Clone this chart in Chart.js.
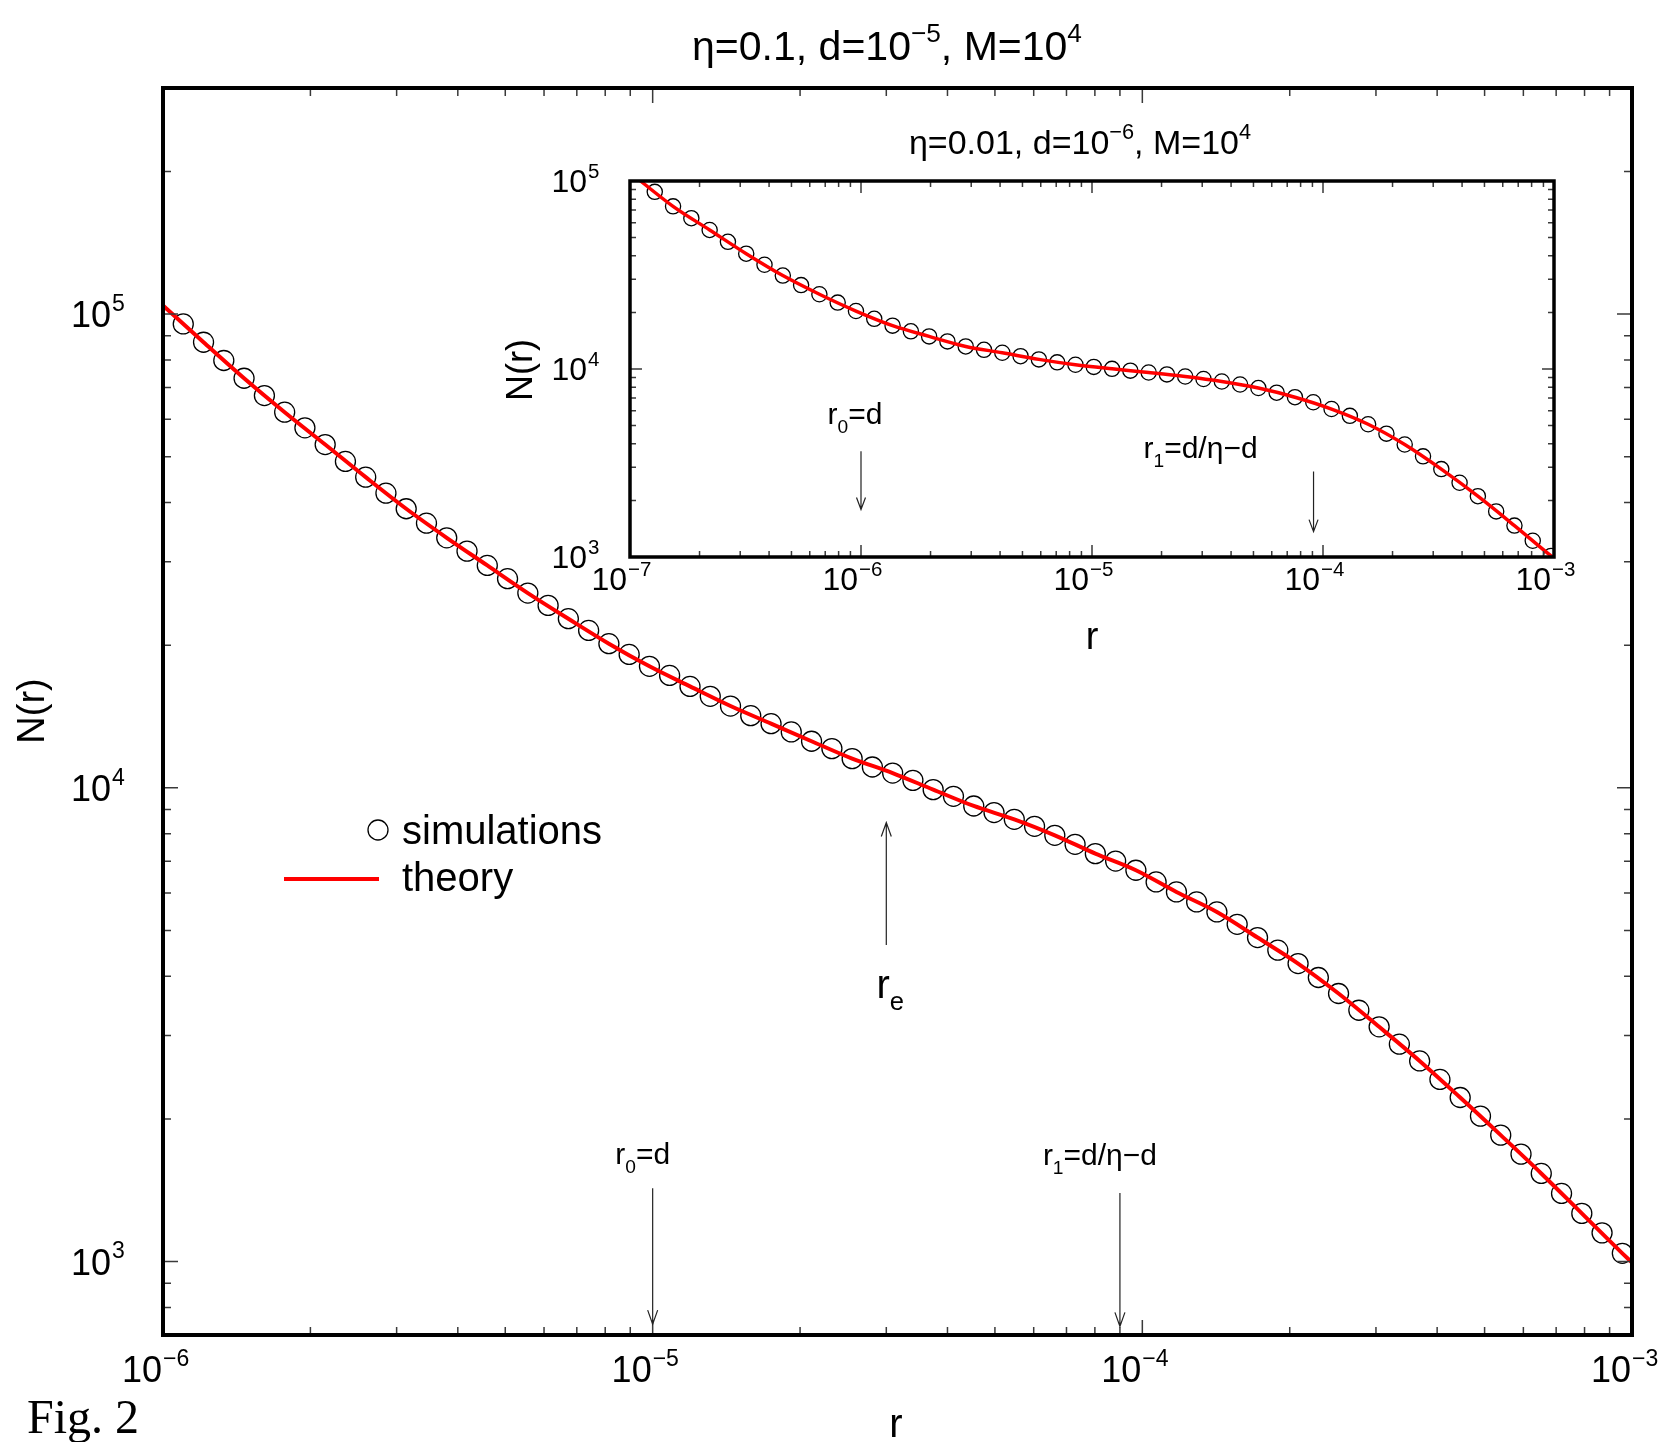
<!DOCTYPE html>
<html>
<head>
<meta charset="utf-8">
<script src="https://cdn.jsdelivr.net/npm/chart.js@4.4.1/dist/chart.umd.min.js"></script>
<style>
  html, body { margin: 0; padding: 0; background: #fff; }
  #wrap { position: relative; width: 1663px; height: 1442px; overflow: hidden; }
  #main { position: absolute; left: 0; top: 0; }
  #inset { position: absolute; left: 480px; top: 100px; }
</style>
</head>
<body>
<div id="wrap">
  <canvas id="main" width="1663" height="1442"></canvas>
  <canvas id="inset" width="1120" height="560"></canvas>
</div>
<script>
// ---- main panel: eta=0.1, d=1e-5, M=1e4 ----
const mainSimR = [
  1.100e-6, 1.210e-6, 1.331e-6, 1.464e-6, 1.611e-6, 1.772e-6, 1.949e-6, 2.144e-6, 2.358e-6, 2.594e-6,
  2.853e-6, 3.138e-6, 3.452e-6, 3.797e-6, 4.177e-6, 4.595e-6, 5.054e-6, 5.560e-6, 6.116e-6, 6.727e-6,
  7.400e-6, 8.140e-6, 8.954e-6, 9.850e-6, 1.083e-5, 1.192e-5, 1.311e-5, 1.442e-5, 1.586e-5, 1.745e-5,
  1.919e-5, 2.111e-5, 2.323e-5, 2.555e-5, 2.810e-5, 3.091e-5, 3.400e-5, 3.740e-5, 4.114e-5, 4.526e-5,
  4.979e-5, 5.476e-5, 6.024e-5, 6.626e-5, 7.289e-5, 8.018e-5, 8.820e-5, 9.702e-5, 1.067e-4, 1.174e-4,
  1.291e-4, 1.420e-4, 1.562e-4, 1.719e-4, 1.891e-4, 2.080e-4, 2.288e-4, 2.516e-4, 2.768e-4, 3.045e-4,
  3.349e-4, 3.684e-4, 4.053e-4, 4.458e-4, 4.904e-4, 5.394e-4, 5.934e-4, 6.527e-4, 7.180e-4, 7.898e-4,
  8.687e-4, 9.556e-4
];
const mainSimN = [
  95300, 87200, 79800, 73200, 67300, 62060, 57530, 53040, 48850, 45260,
  41870, 38820, 36190, 33710, 31590, 29470, 27630, 25770, 24270, 22750,
  21490, 20150, 19120, 18050, 17270, 16370, 15600, 14880, 14200, 13660,
  13120, 12540, 12100, 11525, 11065, 10745, 10370, 9913, 9596, 9155,
  8867, 8582, 8295, 7940, 7600, 7263, 7006, 6699, 6329, 6029,
  5743, 5470, 5152, 4831, 4542, 4257, 3978, 3680, 3393, 3130,
  2877, 2652, 2424, 2220, 2028, 1849, 1686, 1535, 1393, 1264,
  1150, 1041
];
const mainTheoryR = [
  1.000e-6, 1.210e-6, 1.464e-6, 1.772e-6, 2.144e-6, 2.594e-6, 3.138e-6, 3.797e-6, 4.595e-6, 5.560e-6,
  6.727e-6, 8.140e-6, 9.850e-6, 1.192e-5, 1.442e-5, 1.745e-5, 2.111e-5, 2.555e-5, 3.091e-5, 3.740e-5,
  4.526e-5, 5.476e-5, 6.626e-5, 8.018e-5, 9.702e-5, 1.174e-4, 1.420e-4, 1.719e-4, 2.080e-4, 2.516e-4,
  3.045e-4, 3.684e-4, 4.458e-4, 5.394e-4, 6.527e-4, 7.898e-4, 9.556e-4, 1.000e-3
];
const mainTheoryN = [
  104200, 87200, 73200, 62060, 53040, 45260, 38820, 33710, 29470, 25770,
  22750, 20150, 18050, 16370, 14880, 13660, 12540, 11525, 10745, 9913,
  9155, 8582, 7940, 7263, 6699, 6029, 5470, 4831, 4257, 3680,
  3130, 2652, 2220, 1849, 1535, 1264, 1041, 995
];
const mainXTicks = [1e-6, 1e-5, 1e-4, 1e-3];
const mainXTickExp = ['−6', '−5', '−4', '−3'];
const mainYTicks = [1e3, 1e4, 1e5];
const mainYTickExp = ['3', '4', '5'];

// ---- inset: eta=0.01, d=1e-6, M=1e4 ----
const insetSimR = [
  1.280e-7, 1.536e-7, 1.843e-7, 2.212e-7, 2.654e-7, 3.185e-7, 3.822e-7, 4.587e-7, 5.504e-7, 6.605e-7,
  7.926e-7, 9.511e-7, 1.141e-6, 1.370e-6, 1.644e-6, 1.972e-6, 2.367e-6, 2.840e-6, 3.408e-6, 4.090e-6,
  4.908e-6, 5.889e-6, 7.067e-6, 8.480e-6, 1.018e-5, 1.221e-5, 1.466e-5, 1.759e-5, 2.110e-5, 2.532e-5,
  3.039e-5, 3.647e-5, 4.376e-5, 5.251e-5, 6.301e-5, 7.562e-5, 9.074e-5, 1.089e-4, 1.307e-4, 1.568e-4,
  1.882e-4, 2.258e-4, 2.710e-4, 3.252e-4, 3.902e-4, 4.682e-4, 5.619e-4, 6.742e-4, 8.091e-4, 9.709e-4
];
const insetSimN = [
  87560, 73320, 63420, 54900, 47490, 41060, 35840, 31410, 27950, 24990,
  22550, 20340, 18490, 17010, 15870, 14910, 14020, 13180, 12650, 12200,
  11700, 11250, 10850, 10530, 10260, 10020, 9800, 9580, 9360, 9120,
  8850, 8580, 8270, 7920, 7480, 7080, 6655, 6125, 5635, 5085,
  4530, 3967, 3430, 2934, 2484, 2106, 1748, 1469, 1220, 1013
];
const insetTheoryR = [
  1.000e-7, 1.536e-7, 2.212e-7, 3.185e-7, 4.587e-7, 6.605e-7, 9.511e-7, 1.370e-6, 1.972e-6, 2.840e-6,
  4.090e-6, 5.889e-6, 8.480e-6, 1.221e-5, 1.759e-5, 2.532e-5, 3.647e-5, 5.251e-5, 7.562e-5, 1.089e-4,
  1.568e-4, 2.258e-4, 3.252e-4, 4.682e-4, 6.742e-4, 9.709e-4, 1.000e-3
];
const insetTheoryN = [
  111000, 73320, 54900, 41060, 31410, 24990, 20340, 17010, 14910, 13180,
  12200, 11250, 10530, 10020, 9580, 9120, 8580, 7920, 7080, 6125,
  5085, 3967, 2934, 2106, 1469, 1013, 985
];
const insetXTicks = [1e-7, 1e-6, 1e-5, 1e-4, 1e-3];
const insetXTickExp = ['−7', '−6', '−5', '−4', '−3'];
const insetYTicks = [1e3, 1e4, 1e5];
const insetYTickExp = ['3', '4', '5'];

const SANS = '"Liberation Sans", Arial, Helvetica, sans-serif';

// minor log ticks (2..9 in each decade) strictly inside [lo, hi]
function minorTicks(lo, hi) {
  const out = [];
  for (let e = Math.floor(Math.log10(lo)); e <= Math.ceil(Math.log10(hi)); e++) {
    for (let m = 2; m <= 9; m++) {
      const v = m * Math.pow(10, e);
      if (v > lo * 1.0001 && v < hi / 1.0001) out.push(v);
    }
  }
  return out;
}

// text made of runs: [text] or [text, 'sup'|'sub']
function runWidth(ctx, parts, size) {
  let w = 0;
  parts.forEach(([t, k]) => {
    ctx.font = (k ? size * 0.64 : size) + 'px ' + SANS;
    w += ctx.measureText(t).width;
  });
  return w;
}
function drawRuns(ctx, parts, x, y, size, align) {
  const total = runWidth(ctx, parts, size);
  let cx = align === 'center' ? x - total / 2 : align === 'right' ? x - total : x;
  ctx.textAlign = 'left';
  ctx.textBaseline = 'alphabetic';
  ctx.fillStyle = '#000';
  parts.forEach(([t, k]) => {
    ctx.font = (k ? size * 0.64 : size) + 'px ' + SANS;
    const dy = k === 'sup' ? -0.45 * size : k === 'sub' ? 0.3 * size : 0;
    ctx.fillText(t, cx, y + dy);
    cx += ctx.measureText(t).width;
  });
}

function arrow(ctx, x, yTail, yTip, head, half) {
  const dir = Math.sign(yTip - yTail);
  ctx.beginPath();
  ctx.moveTo(x, yTail);
  ctx.lineTo(x, yTip);
  ctx.moveTo(x - half, yTip - dir * head);
  ctx.lineTo(x, yTip);
  ctx.lineTo(x + half, yTip - dir * head);
  ctx.stroke();
}

function makeDeco(cfg) {
  return {
    id: 'deco',
    afterDraw(chart) {
      const { ctx, chartArea: a, scales: { x, y } } = chart;
      ctx.save();
      // tick marks on all four sides, pointing inward
      ctx.strokeStyle = '#3a3a3a';
      ctx.lineWidth = 1.5;
      const xt = (v, len) => {
        const px = x.getPixelForValue(v);
        ctx.beginPath();
        ctx.moveTo(px, a.bottom); ctx.lineTo(px, a.bottom - len);
        ctx.moveTo(px, a.top); ctx.lineTo(px, a.top + len);
        ctx.stroke();
      };
      const yt = (v, len) => {
        const py = y.getPixelForValue(v);
        ctx.beginPath();
        ctx.moveTo(a.left, py); ctx.lineTo(a.left + len, py);
        ctx.moveTo(a.right, py); ctx.lineTo(a.right - len, py);
        ctx.stroke();
      };
      minorTicks(x.min, x.max).forEach(v => xt(v, cfg.minorLen));
      minorTicks(y.min, y.max).forEach(v => yt(v, cfg.minorLen));
      cfg.xTicks.forEach(v => xt(v, cfg.majorLen));
      cfg.yTicks.forEach(v => yt(v, cfg.majorLen));

      // frame
      ctx.strokeStyle = '#000';
      ctx.lineWidth = cfg.frameWidth;
      ctx.strokeRect(a.left, a.top, a.right - a.left, a.bottom - a.top);

      // tick labels 10^n
      const ts = cfg.tickSize;
      cfg.xTicks.forEach((v, i) => {
        const px = x.getPixelForValue(v) + cfg.xLabelDx;
        drawRuns(ctx, [['10']], px, a.bottom + cfg.xLabelDy, ts, 'right');
        drawRuns(ctx, [[cfg.xExp[i], 'sup']], px + 1, a.bottom + cfg.xLabelDy, ts, 'left');
      });
      cfg.yTicks.forEach((v, i) => {
        const py = y.getPixelForValue(v);
        const px = a.left + cfg.yLabelDx;
        drawRuns(ctx, [['10']], px, py + cfg.yLabelDy, ts, 'right');
        drawRuns(ctx, [[cfg.yExp[i], 'sup']], px + 1, py + cfg.yLabelDy, ts, 'left');
      });

      // titles
      drawRuns(ctx, cfg.title.parts, cfg.title.x, cfg.title.y, cfg.title.size, 'center');
      drawRuns(ctx, [['r']], cfg.xTitle.x, cfg.xTitle.y, cfg.xTitle.size, 'center');
      ctx.save();
      ctx.translate(cfg.yTitle.x, cfg.yTitle.y);
      ctx.rotate(-Math.PI / 2);
      ctx.font = cfg.yTitle.size + 'px ' + SANS;
      ctx.textAlign = 'center';
      ctx.textBaseline = 'middle';
      ctx.fillStyle = '#000';
      ctx.fillText('N(r)', 0, 0);
      ctx.restore();

      // arrows with labels, anchored through the scales
      ctx.strokeStyle = '#222';
      ctx.lineWidth = 1.2;
      cfg.arrows.forEach(ar => {
        const px = x.getPixelForValue(ar.r);
        const yTail = y.getPixelForValue(ar.from);
        const yTip = y.getPixelForValue(ar.to);
        arrow(ctx, px, yTail, yTip, ar.head, ar.half);
        const top = Math.min(yTail, yTip), bot = Math.max(yTail, yTip);
        const ly = ar.below ? bot + ar.dy : top + ar.dy;
        drawRuns(ctx, ar.parts, px + ar.dx, ly, ar.size, 'center');
      });

      if (cfg.extra) cfg.extra(ctx);
      ctx.restore();
    }
  };
}

function chartConfig(simR, simN, thR, thN, xRange, yRange, pad, style, deco) {
  return {
    type: 'scatter',
    data: {
      datasets: [
        {
          label: 'theory',
          data: thR.map((r, i) => ({ x: r, y: thN[i] })),
          showLine: true,
          borderColor: '#ff0000',
          borderWidth: style.lineWidth,
          pointRadius: 0,
          cubicInterpolationMode: 'monotone'
        },
        {
          label: 'simulations',
          data: simR.map((r, i) => ({ x: r, y: simN[i] })),
          showLine: false,
          pointStyle: 'circle',
          pointRadius: style.radius,
          pointBorderWidth: 1.3,
          pointBorderColor: '#000',
          pointBackgroundColor: 'rgba(0,0,0,0)'
        }
      ]
    },
    options: {
      responsive: false,
      animation: false,
      devicePixelRatio: 1,
      layout: { padding: pad },
      scales: {
        x: { type: 'logarithmic', min: xRange[0], max: xRange[1], display: false },
        y: { type: 'logarithmic', min: yRange[0], max: yRange[1], display: false }
      },
      plugins: { legend: { display: false }, tooltip: { enabled: false } }
    },
    plugins: [makeDeco(deco)]
  };
}

// main chart
new Chart(document.getElementById('main'), chartConfig(
  mainSimR, mainSimN, mainTheoryR, mainTheoryN,
  [1e-6, 1e-3], [700, 3e5],
  { left: 163, top: 88, right: 31, bottom: 107 },
  { lineWidth: 4, radius: 10 },
  {
    xTicks: mainXTicks, xExp: mainXTickExp, yTicks: mainYTicks, yExp: mainYTickExp,
    majorLen: 15, minorLen: 8, frameWidth: 4, tickSize: 36,
    xLabelDx: -1, xLabelDy: 47, yLabelDx: -52, yLabelDy: 13,
    title: { parts: [['η=0.1, d=10'], ['−5', 'sup'], [', M=10'], ['4', 'sup']], x: 887, y: 60, size: 41 },
    xTitle: { x: 896, y: 1437, size: 40 },
    yTitle: { x: 34, y: 711, size: 38 },
    arrows: [
      { r: 1e-5, from: 1429, to: 738, head: 14, half: 5, dx: -10, dy: -24, size: 30, parts: [['r'], ['0', 'sub'], ['=d']] },
      { r: 9e-5, from: 1396, to: 730, head: 14, half: 5, dx: -20, dy: -28, size: 30, parts: [['r'], ['1', 'sub'], ['=d/η−d']] },
      { r: 3e-5, from: 4660, to: 8450, head: 14, half: 5, dx: 4, dy: 53, below: true, size: 40, parts: [['r'], ['e', 'sub']] }
    ],
    extra(ctx) {
      // legend
      ctx.strokeStyle = '#000';
      ctx.lineWidth = 1.3;
      ctx.beginPath();
      ctx.arc(378, 830, 10, 0, Math.PI * 2);
      ctx.stroke();
      ctx.strokeStyle = '#ff0000';
      ctx.lineWidth = 4;
      ctx.beginPath();
      ctx.moveTo(284, 879);
      ctx.lineTo(379, 879);
      ctx.stroke();
      drawRuns(ctx, [['simulations']], 402, 844, 40, 'left');
      drawRuns(ctx, [['theory']], 402, 891, 40, 'left');
      // figure caption
      ctx.font = '48px "Liberation Serif", "Times New Roman", serif';
      ctx.textAlign = 'left';
      ctx.textBaseline = 'alphabetic';
      ctx.fillStyle = '#000';
      ctx.fillText('Fig. 2', 27, 1433);
    }
  }
));

// inset chart (canvas placed at 480,100 on the page)
new Chart(document.getElementById('inset'), chartConfig(
  insetSimR, insetSimN, insetTheoryR, insetTheoryN,
  [1e-7, 1e-3], [1e3, 1e5],
  { left: 150, top: 81, right: 46, bottom: 103 },
  { lineWidth: 3.5, radius: 7.6 },
  {
    xTicks: insetXTicks, xExp: insetXTickExp, yTicks: insetYTicks, yExp: insetYTickExp,
    majorLen: 12, minorLen: 6, frameWidth: 3.5, tickSize: 32,
    xLabelDx: -3, xLabelDy: 33, yLabelDx: -43, yLabelDy: 11,
    title: { parts: [['η=0.01, d=10'], ['−6', 'sup'], [', M=10'], ['4', 'sup']], x: 600, y: 54, size: 34 },
    xTitle: { x: 612, y: 549, size: 38 },
    yTitle: { x: 42, y: 270, size: 36 },
    arrows: [
      { r: 1e-6, from: 3650, to: 1790, head: 12, half: 4.5, dx: -6, dy: -27, size: 30, parts: [['r'], ['0', 'sub'], ['=d']] },
      { r: 9.1e-5, from: 2848, to: 1364, head: 12, half: 4.5, dx: -113, dy: -14, size: 30, parts: [['r'], ['1', 'sub'], ['=d/η−d']] }
    ]
  }
));
</script>
</body>
</html>
